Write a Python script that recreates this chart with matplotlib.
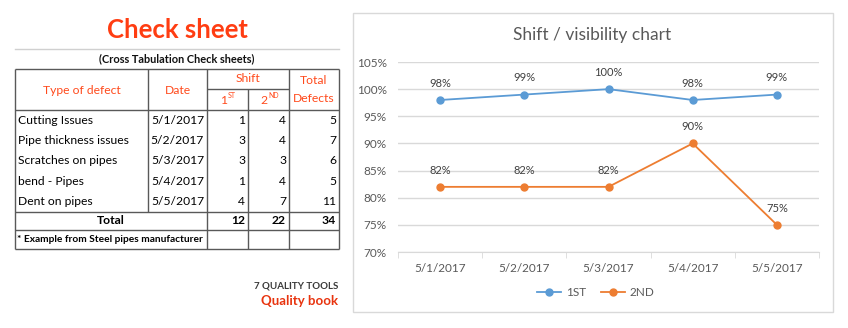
import matplotlib.pyplot as plt
from matplotlib.patches import Rectangle
from matplotlib.ticker import FuncFormatter, FixedLocator

plt.rcParams['font.family'] = ['Lato', 'DejaVu Sans']

# ---- check sheet data
defects = ['Cutting Issues', 'Pipe thickness issues', 'Scratches on pipes',
           'bend - Pipes', 'Dent on pipes']
dates = ['5/1/2017', '5/2/2017', '5/3/2017', '5/4/2017', '5/5/2017']
shift1 = [1, 3, 3, 1, 4]
shift2 = [4, 4, 3, 4, 7]

# ---- visibility per shift (%)
vis1 = [98, 99, 100, 98, 99]
vis2 = [82, 82, 82, 90, 75]
seriesNames = ['1ST', '2ND']


def main():
    W, H = 848, 328
    fig = plt.figure(figsize=(W/100, H/100), dpi=100)

    def rect(x0, y0, x1, y1):
        return [x0/W, 1 - y1/H, (x1 - x0)/W, (y1 - y0)/H]

    red = '#FF3D12'
    hdr = '#FF4A1C'
    line = '#595959'

    #
    # ---- left panel: table drawn in pixel coords
    ax0 = fig.add_axes([0, 0, 1, 1])
    ax0.set_xlim(0, W)
    ax0.set_ylim(H, 0)
    ax0.axis('off')

    ax0.text(177, 30, 'Check sheet', color=red, fontsize=18.5, fontweight='bold',
             ha='center', va='center')
    ax0.plot([15, 339], [49, 49], color='#D0D0D0', lw=1)
    ax0.text(177, 59, '(Cross Tabulation Check sheets)', fontsize=7.9,
             fontweight='bold', ha='center', va='center', color='#111111')

    xs = [15, 148, 207, 248, 289, 339]
    top, mid, hbot = 69, 89, 110
    rowH = 20.4
    rows = [hbot + rowH*i for i in range(len(defects) + 1)]
    totTop, totBot, footBot = rows[-1], rows[-1] + 18, rows[-1] + 37

    def hl(y, x0, x1):
        ax0.plot([x0, x1], [y, y], color=line, lw=1, solid_capstyle='butt')

    def vl(x, y0, y1):
        ax0.plot([x, x], [y0, y1], color=line, lw=1, solid_capstyle='butt')

    for y in [top, hbot, totTop, totBot, footBot]:
        hl(y, xs[0], xs[-1])
    hl(mid, xs[2], xs[4])
    vl(xs[0], top, footBot)
    vl(xs[1], top, totTop)
    vl(xs[2], top, footBot)
    vl(xs[3], mid, footBot)
    vl(xs[4], top, footBot)
    vl(xs[5], top, footBot)

    fs = 8.7
    ax0.text((xs[0] + xs[1])/2, 90, 'Type of defect', color=hdr, fontsize=fs,
             ha='center', va='center')
    ax0.text((xs[1] + xs[2])/2, 90, 'Date', color=hdr, fontsize=fs,
             ha='center', va='center')
    ax0.text((xs[2] + xs[4])/2, 79, 'Shift', color=hdr, fontsize=fs,
             ha='center', va='center')
    ax0.text((xs[4] + xs[5])/2, 80, 'Total', color=hdr, fontsize=fs,
             ha='center', va='center')
    ax0.text((xs[4] + xs[5])/2, 99, 'Defects', color=hdr, fontsize=fs,
             ha='center', va='center')
    for xc, num, sup in [(227, '1', 'ST'), (268, '2', 'ND')]:
        ax0.text(xc, 100, num, color=hdr, fontsize=fs, ha='right', va='center')
        ax0.text(xc + 0.5, 95, sup, color=hdr, fontsize=5, ha='left', va='center')

    for i, (name, date, a, b) in enumerate(zip(defects, dates, shift1, shift2)):
        yc = rows[i] + rowH/2
        ax0.text(18, yc, name, fontsize=fs, ha='left', va='center')
        ax0.text(xs[2] - 3, yc, date, fontsize=fs, ha='right', va='center')
        ax0.text(xs[3] - 3, yc, str(a), fontsize=fs, ha='right', va='center')
        ax0.text(xs[4] - 3, yc, str(b), fontsize=fs, ha='right', va='center')
        ax0.text(xs[5] - 3, yc, str(a + b), fontsize=fs, ha='right', va='center')

    yc = (totTop + totBot)/2
    ax0.text((xs[0] + xs[2])/2, yc, 'Total', fontsize=fs, fontweight='bold',
             ha='center', va='center')
    for x, v in zip(xs[3:], [sum(shift1), sum(shift2), sum(shift1) + sum(shift2)]):
        ax0.text(x - 3, yc, str(v), fontsize=fs, fontweight='bold',
                 ha='right', va='center')
    ax0.text(17, (totBot + footBot)/2, '* Example from Steel pipes manufacturer',
             fontsize=7.3, fontweight='bold', ha='left', va='center')

    # logo text
    ax0.text(338, 286, '7 QUALITY TOOLS', fontsize=7, fontweight='bold',
             color='#3A3A3A', ha='right', va='center')
    ax0.text(338, 301, 'Quality book', fontsize=9.5, fontweight='bold',
             color='#E8340F', ha='right', va='center')

    #
    # ---- right panel: line chart
    ax0.add_patch(Rectangle((353, 13), 480, 299, fill=False,
                            edgecolor='#D9D9D9', lw=1))
    fig.text(592/W, 1 - 35/H, 'Shift / visibility chart', fontsize=12.5,
             color='#595959', ha='center', va='center')

    ax = fig.add_axes(rect(398, 62, 819, 252))
    x = range(len(dates))
    colors = ['#5B9BD5', '#ED7D31']
    for vals, c, name in zip([vis1, vis2], colors, seriesNames):
        y = [v/100 for v in vals]
        ax.plot(x, y, color=c, lw=1.3, marker='o', markersize=5, label=name,
                zorder=3)
        for xi, yi, v in zip(x, y, vals):
            ax.text(xi, yi + 0.031, f'{v}%', fontsize=8, color='#404040',
                    ha='center', va='center')

    ax.set_xlim(-0.5, len(dates) - 0.5)
    ax.set_ylim(0.70, 1.05)
    ax.set_yticks([0.70 + 0.05*i for i in range(8)])
    ax.yaxis.set_major_formatter(FuncFormatter(lambda v, p: f'{v*100:.0f}%'))
    ax.set_xticks(list(x))
    ax.set_xticklabels(dates)
    ax.xaxis.set_minor_locator(FixedLocator([i - 0.5 for i in range(len(dates) + 1)]))
    ax.tick_params(axis='x', which='major', length=0, pad=8, labelsize=8.5,
                   labelcolor='#595959')
    ax.tick_params(axis='x', which='minor', length=4, color='#D9D9D9')
    ax.tick_params(axis='y', length=0, pad=8, labelsize=8.5, labelcolor='#595959')
    ax.grid(axis='y', color='#D9D9D9', lw=1)
    ax.set_axisbelow(True)
    for s in ['left', 'right', 'top']:
        ax.spines[s].set_visible(False)
    ax.spines['bottom'].set_color('#D9D9D9')

    ax.legend(loc='center', bbox_to_anchor=(596/W, 1 - 293/H),
              bbox_transform=fig.transFigure, ncol=2, frameon=False,
              fontsize=8.5, labelcolor='#595959', handlelength=2.0,
              columnspacing=1.3, handletextpad=0.4)

    fig.savefig('out.png', dpi=100)


if __name__ == '__main__':
    main()
